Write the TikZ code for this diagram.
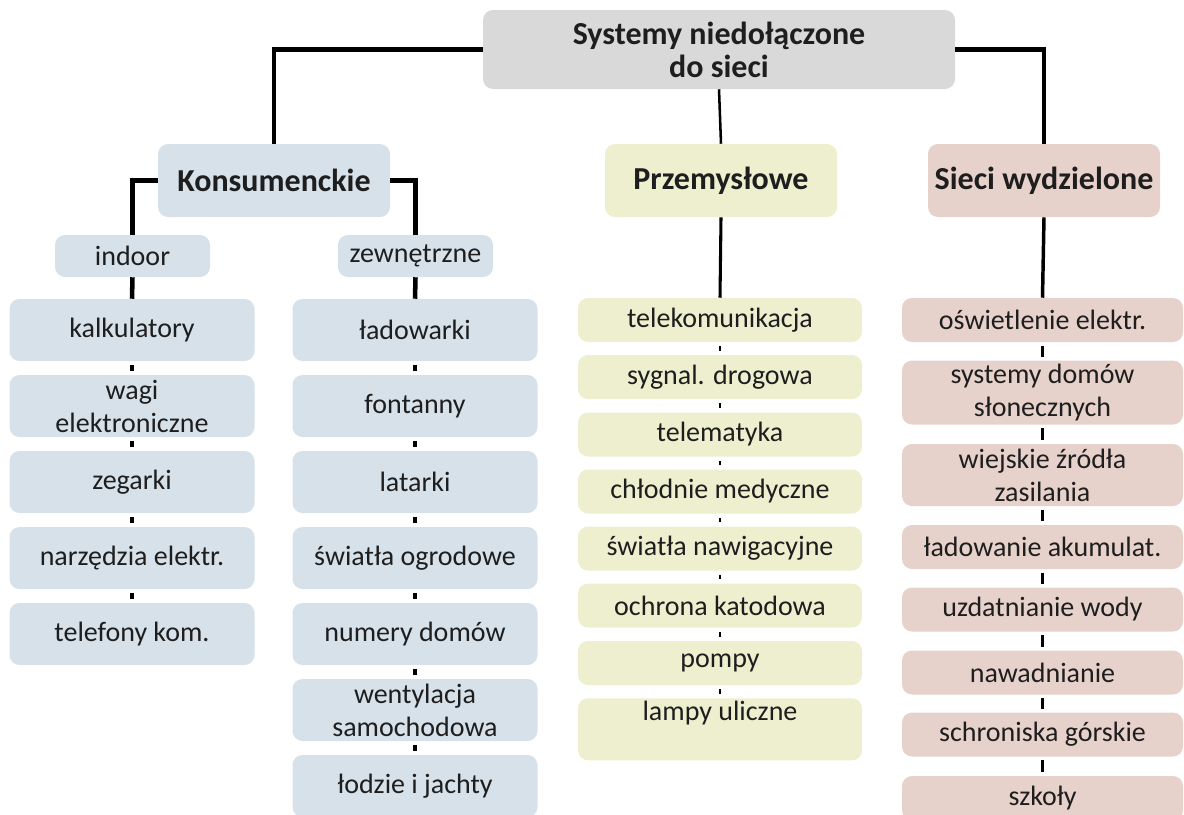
\documentclass[tikz,border=0pt]{standalone}
\usepackage{fontspec}
\setmainfont{Carlito}
\usepackage{xcolor}
\definecolor{boxgrey}{RGB}{217,217,217}
\definecolor{boxblue}{RGB}{214,225,234}
\definecolor{boxyellow}{RGB}{237,239,207}
\definecolor{boxpink}{RGB}{231,209,203}
\definecolor{ink}{RGB}{30,30,30}

\begin{document}
\begin{tikzpicture}[x=0.75pt,y=0.75pt,yscale=-1,xscale=1,
  every node/.style={font=\fontsize{21}{24.75}\selectfont, text=ink, align=center, inner sep=0pt, rounded corners=7.5pt},
  rootbox/.style={fill=boxgrey, minimum width=354pt, minimum height=59.25pt, font=\fontsize{24}{24.75}\selectfont\bfseries},
  headbox/.style={minimum width=174pt, minimum height=54.75pt, font=\fontsize{24}{24.75}\selectfont\bfseries},
  subbox/.style={fill=boxblue, minimum width=116.25pt, minimum height=31.5pt},
  conbox/.style={fill=boxblue, minimum width=183.75pt, minimum height=46.5pt},
  indbox/.style={fill=boxyellow, minimum width=213pt, minimum height=33pt},
  isobox/.style={fill=boxpink, minimum width=210.75pt, minimum height=33pt},
  link/.style={line width=3.4pt},
  tick/.style={line width=3pt, shorten <=2.5pt, shorten >=2.5pt},
  thintick/.style={line width=1.8pt, shorten <=3pt, shorten >=3pt}]
%uncomment if require: \path (0,814); %set diagram left start at 0, and has height of 814
\useasboundingbox (0,0) rectangle (1184,814);

%Rounded Rect: root
\draw (719,49.5) node [rootbox] (root) {Systemy niedołączone\\do sieci};

%Rounded Rect: heads
\draw (274,180.5) node [headbox, fill=boxblue] (kons) {Konsumenckie};
\draw (721,180.5) node [headbox, fill=boxyellow] (przem) {Przemysłowe};
\draw (1044,180.5) node [headbox, fill=boxpink] (wydz) {Sieci wydzielone};

%Rounded Rect: consumer groups
\draw (132.5,256) node [subbox] (indoor) {indoor};
\draw (415.5,256) node [subbox] (zewn) {zewnętrzne};

% Text Node: indoor
\draw (132,330) node [conbox] (kalk) {kalkulatory};
\draw (132,406) node [conbox] (wagi) {wagi\\elektroniczne};
\draw (132,482) node [conbox] (zeg) {zegarki};
\draw (132,558) node [conbox] (narz) {narzędzia elektr.};
\draw (132,634) node [conbox] (tel) {telefony kom.};

% Text Node: zewnetrzne
\draw (415,330) node [conbox] (ladow) {ładowarki};
\draw (415,406) node [conbox] (font) {fontanny};
\draw (415,482) node [conbox] (latar) {latarki};
\draw (415,558) node [conbox] (ogrod) {światła ogrodowe};
\draw (415,634) node [conbox] (numer) {numery domów};
\draw (415,710) node [conbox] (went) {wentylacja\\samochodowa};
\draw (415,786) node [conbox] (lodzie) {łodzie i jachty};

% Text Node: przemyslowe
\draw (720,320) node [indbox] (telek) {telekomunikacja};
\draw (720,377) node [indbox] (sygn) {sygnal. drogowa};
\draw (720,434.5) node [indbox] (telem) {telematyka};
\draw (720,491.5) node [indbox] (chlod) {chłodnie medyczne};
\draw (720,548.5) node [indbox] (nawig) {światła nawigacyjne};
\draw (720,605.5) node [indbox] (katod) {ochrona katodowa};
\draw (720,663) node [indbox] (pompy) {pompy};
\draw (720,698) node [indbox, anchor=north, text height=17pt, text depth=29.5pt] (lampy) {lampy uliczne};

% Text Node: sieci wydzielone
\draw (1042.5,320) node [isobox] (oswiet) {oświetlenie elektr.};
\draw (1042.5,392.5) node [isobox, minimum height=48pt] (sdom) {systemy domów\\słonecznych};
\draw (1042.5,475) node [isobox, minimum height=46.5pt] (wiejsk) {wiejskie źródła\\zasilania};
\draw (1042.5,547) node [isobox] (akum) {ładowanie akumulat.};
\draw (1042.5,609.5) node [isobox] (wody) {uzdatnianie wody};
\draw (1042.5,672.5) node [isobox] (nawadn) {nawadnianie};
\draw (1042.5,734.5) node [isobox] (schron) {schroniska górskie};
\draw (1042.5,798) node [isobox] (szkoly) {szkoły};

%Straight Lines: tree
\draw [link] (root.west) -| (kons.north);
\draw [link] (root.east) -| (wydz.north);
\draw [line width=1.9pt] (root.south) -- (przem.north);
\draw [link] (kons.west) -| (indoor.north);
\draw [link] (kons.east) -| (zewn.north);
\draw [link] (indoor.south) -- (kalk.north);
\draw [link] (zewn.south) -- (ladow.north);
\draw [line width=2.3pt] (przem.south) -- (telek.north);
\draw [line width=2.6pt] (wydz.south) -- (oswiet.north);

%Straight Lines: ticks
\draw [tick] (kalk) -- (wagi);
\draw [tick] (wagi) -- (zeg);
\draw [tick] (zeg) -- (narz);
\draw [tick] (narz) -- (tel);
\draw [tick] (ladow) -- (font);
\draw [tick] (font) -- (latar);
\draw [tick] (latar) -- (ogrod);
\draw [tick] (ogrod) -- (numer);
\draw [tick] (numer) -- (went);
\draw [tick] (went) -- (lodzie);
\draw [thintick] (telek) -- (sygn);
\draw [thintick] (sygn) -- (telem);
\draw [thintick] (telem) -- (chlod);
\draw [thintick] (chlod) -- (nawig);
\draw [thintick] (nawig) -- (katod);
\draw [thintick] (katod) -- (pompy);
\draw [thintick] (pompy) -- (lampy);
\draw [tick, line width=2.4pt] (oswiet) -- (sdom);
\draw [tick, line width=2.4pt] (sdom) -- (wiejsk);
\draw [tick, line width=2.4pt] (wiejsk) -- (akum);
\draw [tick, line width=2.4pt] (akum) -- (wody);
\draw [tick, line width=2.4pt] (wody) -- (nawadn);
\draw [tick, line width=2.4pt] (nawadn) -- (schron);
\draw [tick, line width=2.4pt] (schron) -- (szkoly);

\end{tikzpicture}
\end{document}
